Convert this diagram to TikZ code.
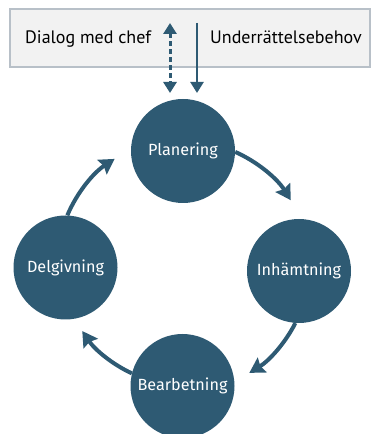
\documentclass[tikz,border=0pt]{standalone}
\usepackage{fontspec}
\setmainfont{Fira Sans}
\newfontfamily\panelfont{PT Sans}
\usetikzlibrary{arrows.meta}
\definecolor{steel}{HTML}{2E5A73}
\definecolor{panel}{HTML}{F2F2F2}
\definecolor{panelline}{HTML}{B8C0C8}
\begin{document}
\begin{tikzpicture}[x=1pt,y=1pt,
  phase/.style={circle, fill=steel, minimum size=104pt, inner sep=0pt,
    text=white, font=\fontsize{16.2}{19}\selectfont},
  cyc/.style={draw=steel, line width=4pt,
    -{Stealth[inset=2pt,width=17pt,length=15pt]}},
  feed/.style={draw=steel, line width=2.4pt},
  label/.style={anchor=base west, inner sep=0pt, text=black,
    font=\panelfont\fontsize{18}{22}\selectfont}]
\useasboundingbox (0,0) rectangle (371,434);

% header panel with the two inputs
\node[draw=panelline, fill=panel, line width=1.5pt, minimum width=360pt,
  minimum height=58pt, inner sep=0pt, anchor=south west] (panel) at (9,366) {};
\node[label] (dialog) at (25,390.5) {Dialog med chef};
\node[label] (need) at (210,390.5) {Underrättelsebehov};

% the four phases of the cycle
\node[phase] (P) at (183,283) {Planering};
\node[phase] (I) at (299,163) {Inhämtning};
\node[phase] (B) at (182.5,48) {Bearbetning};
\node[phase] (D) at (65.5,166.5) {Delgivning};

% cycle arrows
\draw[cyc] (P.-1) arc[start angle=66, end angle=32, radius=126];
\draw[cyc] (I.-94) arc[start angle=-27, end angle=-58.5, radius=125];
\draw[cyc] (B.166) arc[start angle=245, end angle=214, radius=122];
\draw[cyc] (D.88) arc[start angle=157, end angle=123, radius=126];

% links between panel and planning
\coordinate (dTop) at (170,411);
\coordinate (dBot) at (170,341);
\coordinate (sTop) at (197,411);
\coordinate (sBot) at (197,341);
\draw[feed, line width=3pt, dash pattern=on 5pt off 3pt,
  {Triangle[width=13pt,length=11pt]}-{Triangle[width=13pt,length=11pt]}] (dTop) -- (dBot);
\draw[feed, -{Triangle[width=13pt,length=11pt]}] (sTop) -- (sBot);
\end{tikzpicture}
\end{document}
